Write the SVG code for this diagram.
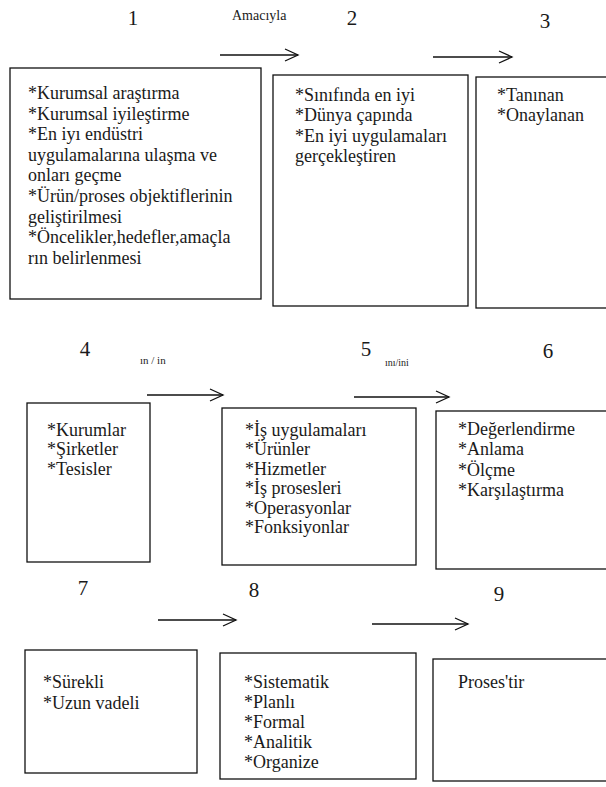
<svg xmlns="http://www.w3.org/2000/svg" width="606" height="787" viewBox="0 0 606 787">
<defs>
<style>
.box{fill:#fff;stroke:#111;stroke-width:1.3}
.t{font-family:"Liberation Serif","Times New Roman",serif;font-size:18px;fill:#1a1a1a}
.num{font-family:"Liberation Serif","Times New Roman",serif;font-size:21px;fill:#1a1a1a;text-anchor:middle}
.lbl{font-family:"Liberation Serif","Times New Roman",serif;fill:#1a1a1a}
.conn{stroke:#111;stroke-width:1.3;fill:none;marker-end:url(#arr)}
</style>
<marker id="arr" markerUnits="userSpaceOnUse" markerWidth="16" markerHeight="14" refX="14" refY="7" orient="auto">
<path d="M1,1 L14,7 L1,13" fill="none" stroke="#111" stroke-width="1.3"/>
</marker>
</defs>
<rect width="606" height="787" fill="#fff"/>

<g id="labels">
<text class="num" x="133" y="25">1</text>
<text class="lbl" x="232" y="20" font-size="14">Amacıyla</text>
<text class="num" x="352" y="25">2</text>
<text class="num" x="545" y="28">3</text>
<text class="num" x="85" y="356">4</text>
<text class="lbl" x="140" y="364" font-size="11">ın / in</text>
<text class="num" x="366" y="356">5</text>
<text class="lbl" x="385" y="366" font-size="10">ını/ini</text>
<text class="num" x="548" y="358">6</text>
<text class="num" x="83" y="595">7</text>
<text class="num" x="254" y="597">8</text>
<text class="num" x="499" y="601">9</text>
</g>

<g id="connectors">
<path class="conn" d="M220,55 H298"/>
<path class="conn" d="M433,57 H512"/>
<path class="conn" d="M147,395 H223"/>
<path class="conn" d="M354,397 H449"/>
<path class="conn" d="M158,620 H236"/>
<path class="conn" d="M372,624 H468"/>
</g>

<g id="node1">
<rect class="box" x="10" y="68" width="251" height="231"/>
<text class="t" x="28" y="99">*Kurumsal araştırma</text>
<text class="t" x="28" y="119.6">*Kurumsal iyileştirme</text>
<text class="t" x="28" y="140.2">*En iyı endüstri</text>
<text class="t" x="28" y="160.8">uygulamalarına ulaşma ve</text>
<text class="t" x="28" y="181.4">onları geçme</text>
<text class="t" x="28" y="202">*Ürün/proses objektiflerinin</text>
<text class="t" x="28" y="222.6">geliştirilmesi</text>
<text class="t" x="28" y="243.2">*Öncelikler,hedefler,amaçla</text>
<text class="t" x="28" y="263.8">rın belirlenmesi</text>
</g>

<g id="node2">
<rect class="box" x="273" y="75" width="195" height="231"/>
<text class="t" x="295" y="101">*Sınıfında en iyi</text>
<text class="t" x="295" y="121.3">*Dünya çapında</text>
<text class="t" x="295" y="141.6">*En iyi uygulamaları</text>
<text class="t" x="295" y="162">gerçekleştiren</text>
</g>

<g id="node3">
<rect class="box" x="476" y="77" width="135" height="231"/>
<text class="t" x="497" y="101">*Tanınan</text>
<text class="t" x="497" y="121.3">*Onaylanan</text>
</g>

<g id="node4">
<rect class="box" x="27" y="403" width="123" height="159"/>
<text class="t" x="47" y="436">*Kurumlar</text>
<text class="t" x="47" y="455">*Şirketler</text>
<text class="t" x="47" y="474.5">*Tesisler</text>
</g>

<g id="node5">
<rect class="box" x="222" y="408" width="194" height="157"/>
<text class="t" x="245" y="436">*İş uygulamaları</text>
<text class="t" x="245" y="455.4">*Ürünler</text>
<text class="t" x="245" y="474.8">*Hizmetler</text>
<text class="t" x="245" y="494.2">*İş prosesleri</text>
<text class="t" x="245" y="513.6">*Operasyonlar</text>
<text class="t" x="245" y="533">*Fonksiyonlar</text>
</g>

<g id="node6">
<rect class="box" x="436" y="411" width="175" height="158"/>
<text class="t" x="458" y="435">*Değerlendirme</text>
<text class="t" x="458" y="455.3">*Anlama</text>
<text class="t" x="458" y="475.6">*Ölçme</text>
<text class="t" x="458" y="496">*Karşılaştırma</text>
</g>

<g id="node7">
<rect class="box" x="25" y="650" width="172" height="123"/>
<text class="t" x="43" y="688">*Sürekli</text>
<text class="t" x="43" y="709">*Uzun vadeli</text>
</g>

<g id="node8">
<rect class="box" x="220" y="653" width="196" height="126"/>
<text class="t" x="244" y="688">*Sistematik</text>
<text class="t" x="244" y="708">*Planlı</text>
<text class="t" x="244" y="728">*Formal</text>
<text class="t" x="244" y="748">*Analitik</text>
<text class="t" x="244" y="768">*Organize</text>
</g>

<g id="node9">
<rect class="box" x="433" y="659" width="180" height="122"/>
<text class="t" x="458" y="688">Proses'tir</text>
</g>
</svg>
